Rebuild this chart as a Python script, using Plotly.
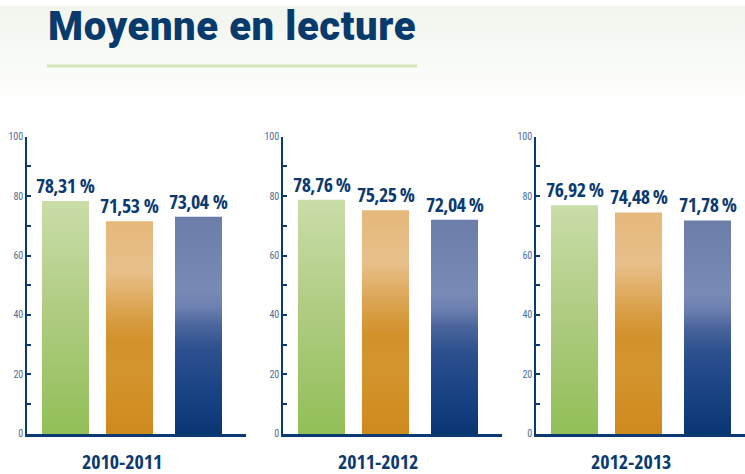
import plotly.graph_objects as go

# ---- data ----
years = ["2010-2011", "2011-2012", "2012-2013"]
series_names = ["Série 1", "Série 2", "Série 3"]
values_2010 = [78.31, 71.53, 73.04]
values_2011 = [78.76, 75.25, 72.04]
values_2012 = [76.92, 74.48, 71.78]
all_values = [values_2010, values_2011, values_2012]
label_sep = [" ", "\u2009", "\u2009"]
y_ticks = [0, 20, 40, 60, 80, 100]
title_text = "Moyenne en lecture"

# ---- style ----
W, H = 745, 474
NAVY = "#0b3a70"
TICK_COL = "#4d6d9d"
COND = "Open Sans Condensed, Roboto Condensed, sans-serif"
TICKFONT = "Roboto Condensed, sans-serif"
scales = [
    [[0, "#92bf57"], [0.5, "#aecb80"], [1, "#c9dda8"]],
    [[0, "#cf8a1e"], [0.3, "#d4942e"], [0.44, "#d3912b"], [0.53, "#d79c40"],
     [0.65, "#e0ad65"], [0.77, "#e8c08a"], [1, "#e5b77a"]],
    [[0, "#0a3573"], [0.2, "#1a4383"], [0.38, "#2c4f8e"], [0.5, "#4a659c"],
     [0.58, "#6c7fb0"], [0.66, "#7a8ab6"], [1, "#6d7daa"]],
]
panel_left = [27, 283, 536]
panel_w = 219
bar_centers = [38.5, 102.5, 171.5]
bar_w = 47
y_bottom, y_top = 439, 134

fig = go.Figure()

# background soft gradient (subplot 1, drawn first)
fig.add_trace(go.Scatter(
    x=[0, W, W, 0, 0], y=[H - 105, H - 105, H, H, H - 105],
    fill="toself", mode="lines", line=dict(width=0),
    fillgradient=dict(type="vertical",
                      colorscale=[[0, "#ffffff"], [0.4, "#f9fbf7"], [1, "#f1f5ee"]]),
    hoverinfo="skip", showlegend=False, xaxis="x", yaxis="y"))

layout = dict(
    width=W, height=H, margin=dict(l=0, r=0, t=0, b=0),
    paper_bgcolor="white", plot_bgcolor="rgba(0,0,0,0)", showlegend=False,
    xaxis=dict(domain=[0, 1], range=[0, W], visible=False, fixedrange=True),
    yaxis=dict(domain=[0, 1], range=[0, H], visible=False, fixedrange=True),
)

annotations = []
for p, vals in enumerate(all_values):
    k = p + 2
    xa, ya = f"x{k}", f"y{k}"
    x0 = panel_left[p]
    x1 = min(x0 + panel_w, W)
    layout[f"xaxis{k}"] = dict(
        domain=[x0 / W, x1 / W], range=[0, x1 - x0], anchor=ya,
        showline=True, linecolor=NAVY, linewidth=2.5, showticklabels=False,
        ticks="", showgrid=False, zeroline=False, fixedrange=True)
    layout[f"yaxis{k}"] = dict(
        domain=[(H - y_bottom) / H, (H - y_top) / H], range=[0, 100], anchor=xa,
        showline=True, linecolor=NAVY, linewidth=1.5,
        ticks="inside", ticklen=4, tickwidth=1.5, tickcolor=NAVY,
        tickvals=y_ticks, ticktext=[str(t) for t in y_ticks],
        minor=dict(dtick=10, ticks="inside", ticklen=4, tickwidth=1.5, tickcolor=NAVY),
        tickfont=dict(family=TICKFONT, size=10, color=TICK_COL),
        showgrid=False, zeroline=False, fixedrange=True)
    for j, v in enumerate(vals):
        c = bar_centers[j]
        fig.add_trace(go.Scatter(
            x=[c - bar_w / 2, c - bar_w / 2, c + bar_w / 2, c + bar_w / 2, c - bar_w / 2],
            y=[0, v, v, 0, 0], fill="toself", mode="lines", line=dict(width=0),
            fillgradient=dict(type="vertical", colorscale=scales[j]),
            name=series_names[j], hoverinfo="skip", showlegend=False,
            xaxis=xa, yaxis=ya))
        label = f"{v:.2f}".replace(".", ",") + label_sep[p] + "%"
        annotations.append(dict(
            xref=xa, yref=ya, x=c, y=v, yanchor="bottom", xanchor="center",
            text=f"<span style='letter-spacing:-0.6px'><b>{label}</b></span>",
            showarrow=False, yshift=0,
            font=dict(family=COND, size=20, color=NAVY)))
    annotations.append(dict(
        xref=xa, yref="paper", x=95, y=7 / H, yanchor="middle", xanchor="center",
        text=f"<b>{years[p]}</b>", showarrow=False,
        font=dict(family=COND, size=20, color=NAVY)))

annotations.append(dict(
    xref="paper", yref="paper", x=46 / W, y=1 + 5 / H, xanchor="left", yanchor="top",
    text=f"<span style='letter-spacing:0.6px'>{title_text}</span>", showarrow=False,
    font=dict(family="Roboto, Lato, sans-serif", size=40, color="#083a6c", weight=900)))

layout["annotations"] = annotations
layout["shapes"] = [dict(type="line", xref="paper", yref="paper",
                         x0=47 / W, x1=417 / W, y0=1 - 61.5 / H, y1=1 - 61.5 / H,
                         line=dict(color="#d4e7bb", width=3))]
fig.update_layout(**layout)
fig.write_html("out.html")
